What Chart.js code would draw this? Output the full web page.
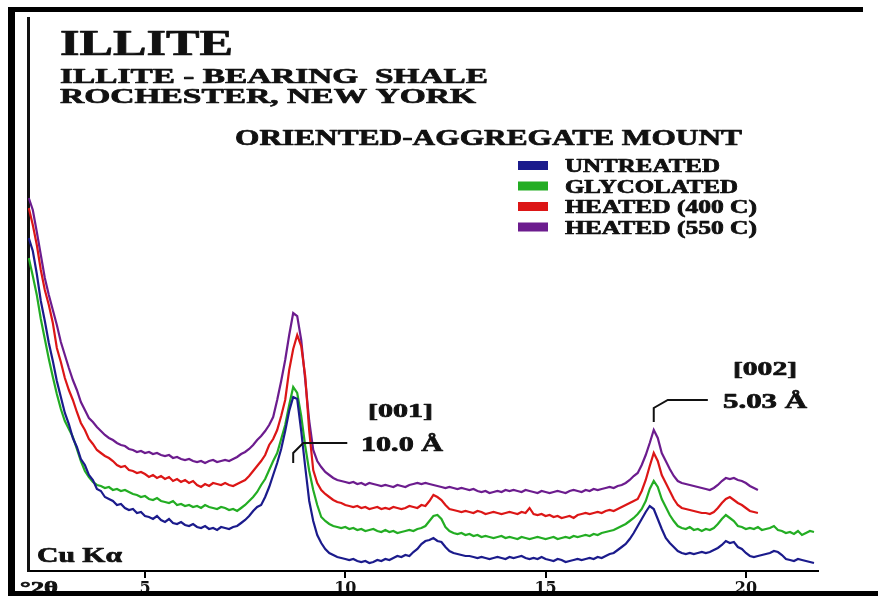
<!DOCTYPE html>
<html>
<head>
<meta charset="utf-8">
<title>ILLITE</title>
<script src="https://cdn.jsdelivr.net/npm/chart.js@4/dist/chart.umd.min.js"></script>
<style>
  html, body { margin: 0; padding: 0; background: #fff; }
  #wrap { width: 878px; height: 596px; }
</style>
</head>
<body>
<div id="wrap"><canvas id="xrd" width="878" height="596"></canvas></div>
<script>
// Scan grid (°2θ): first angle and step between readings
const scanStart = 2.1;
const scanStep = 0.1;

// Tick positions on the °2θ axis
const xTicks = [5, 10, 15, 20];

// Series names, as in the key
const seriesNames = ['UNTREATED', 'GLYCOLATED', 'HEATED (400 C)', 'HEATED (550 C)'];

// Intensities (arbitrary units, traces stacked with their own offsets)
const untreated = [
  333, 320, 297, 270, 250, 228, 210, 190, 174, 158,
  147, 133, 124, 112, 106, 96, 91, 82, 80, 74,
  72, 70, 66, 67, 63, 61, 62, 58, 59, 55,
  54, 52, 55, 51, 49, 52, 48, 47, 49, 46,
  45, 47, 44, 43, 45, 42, 43, 41, 44, 43,
  42, 44, 45, 48, 51, 55, 60, 64, 66, 74,
  84, 96, 108, 122, 140, 160, 174, 172, 140, 104,
  70, 50, 36, 28, 22, 18, 16, 14, 13, 12,
  11, 12, 10, 9, 10, 8, 9, 11, 10, 12,
  11, 13, 15, 14, 16, 15, 19, 22, 27, 30,
  31, 33, 30, 29, 24, 20, 18, 17, 16, 15,
  15, 14, 13, 14, 13, 12, 13, 14, 13, 12,
  14, 13, 14, 15, 13, 12, 13, 12, 14, 12,
  11, 10, 12, 11, 9, 10, 11, 12, 11, 12,
  13, 12, 14, 13, 15, 17, 18, 21, 24, 27,
  32, 38, 45, 52, 59, 65, 62, 52, 42, 33,
  28, 24, 20, 18, 17, 18, 17, 18, 19, 18,
  19, 21, 23, 26, 30, 28, 29, 24, 22, 18,
  15, 14, 15, 16, 17, 18, 20, 19, 16, 12,
  11, 10, 12, 11, 10, 9, 8
];
const glycolated = [
  313, 295, 276, 252, 232, 212, 194, 177, 162, 150,
  142, 134, 122, 110, 100, 94, 89, 86, 85, 83,
  84, 81, 82, 80, 81, 79, 77, 76, 74, 75,
  72, 71, 73, 70, 69, 68, 70, 66, 67, 65,
  66, 64, 65, 63, 66, 64, 63, 62, 64, 63,
  61, 62, 60, 63, 66, 70, 74, 79, 86, 92,
  101, 110, 118, 132, 146, 166, 184, 178, 155, 125,
  100, 81, 66, 54, 50, 47, 45, 44, 43, 44,
  42, 43, 41, 42, 40, 41, 42, 40, 39, 41,
  39, 40, 38, 39, 40, 41, 40, 42, 43, 45,
  50, 55, 56, 52, 44, 40, 38, 37, 38, 36,
  37, 35, 36, 34, 35, 34, 33, 34, 35, 33,
  34, 33, 32, 34, 33, 32, 33, 34, 33, 32,
  33, 34, 32, 33, 34, 33, 35, 34, 35, 36,
  35, 37, 36, 38, 39, 40, 41, 43, 45, 47,
  50, 53, 57, 62, 70, 82, 90, 84, 72, 64,
  56, 50, 45, 43, 42, 44, 41, 42, 40, 42,
  41, 43, 47, 52, 56, 53, 50, 45, 44, 42,
  43, 42, 44, 41, 42, 43, 45, 41, 40, 38,
  39, 37, 40, 36, 38, 40, 39
];
const heated400 = [
  363, 346, 326, 301, 281, 266, 248, 223, 209, 193,
  181, 171, 159, 148, 141, 132, 127, 121, 118, 115,
  113, 110, 106, 104, 105, 101, 100, 98, 99, 97,
  94, 96, 93, 95, 92, 94, 90, 92, 89, 91,
  88, 90, 86, 84, 87, 85, 88, 87, 86, 88,
  86, 85, 87, 89, 91, 95, 100, 105, 110, 116,
  126, 132, 141, 155, 171, 201, 222, 236, 225, 195,
  140, 101, 88, 81, 77, 74, 71, 69, 68, 66,
  65, 64, 65, 63, 64, 62, 63, 64, 62, 63,
  62, 64, 63, 62, 63, 65, 64, 63, 66, 65,
  70, 76, 74, 71, 66, 62, 61, 60, 59, 60,
  59, 58, 60, 59, 57, 58, 59, 58, 57, 58,
  59, 58, 57, 59, 58, 63, 57, 56, 57, 55,
  56, 54, 55, 53, 54, 55, 53, 56, 57, 58,
  57, 58, 59, 58, 60, 61, 60, 62, 64, 66,
  68, 70, 72, 80, 91, 105, 118, 110, 96, 88,
  80, 72, 66, 63, 62, 61, 60, 59, 58, 58,
  57, 59, 63, 68, 72, 74, 71, 68, 66, 63,
  60, 59, 58
];
const heated550 = [
  373, 361, 339, 316, 293, 276, 261, 246, 229, 216,
  203, 191, 181, 169, 161, 153, 149, 144, 140, 136,
  133, 131, 128, 126, 125, 122, 121, 119, 120, 118,
  119, 117, 118, 116, 115, 116, 113, 114, 112, 111,
  112, 110, 109, 110, 108, 110, 111, 109, 110, 111,
  110, 112, 114, 117, 119, 122, 126, 131, 135, 140,
  146, 154, 171, 190, 211, 236, 258, 255, 231, 191,
  150, 121, 110, 104, 99, 96, 93, 91, 90, 89,
  88, 89, 87, 88, 86, 88, 87, 86, 85, 86,
  85, 84, 86, 85, 84, 86, 87, 88, 87, 88,
  87, 86, 85, 84, 83, 84, 83, 82, 83, 82,
  81, 82, 80, 79, 80, 78, 79, 80, 79, 81,
  80, 81, 80, 79, 81, 80, 79, 78, 80, 79,
  78, 79, 80, 79, 78, 80, 81, 80, 79, 81,
  80, 82, 81, 82, 83, 84, 83, 85, 86, 88,
  91, 95, 98, 106, 116, 128, 141, 133, 118, 110,
  102, 95, 90, 88, 87, 86, 85, 84, 83, 82,
  81, 83, 86, 90, 93, 92, 93, 91, 90, 88,
  85, 83, 81
];

const seriesColors = ['#1b1b8c', '#23ad23', '#dc1616', '#6c1c8e'];
const seriesValues = [untreated, glycolated, heated400, heated550];

function toPoints(values) {
  return values.map((v, i) => ({ x: +(scanStart + i * scanStep).toFixed(2), y: v }));
}

const SERIF = '"Liberation Serif", "Times New Roman", serif';

// Heavy serif text, stretched horizontally to a given width
function wideText(ctx, text, left, baseline, size, width) {
  ctx.save();
  ctx.font = 'bold ' + size + 'px ' + SERIF;
  ctx.textAlign = 'left';
  ctx.textBaseline = 'alphabetic';
  const w = ctx.measureText(text).width;
  ctx.translate(left, baseline);
  ctx.scale(width / w, 1);
  ctx.fillStyle = '#111';
  ctx.strokeStyle = '#111';
  ctx.lineWidth = 0.7;
  ctx.lineJoin = 'round';
  ctx.fillText(text, 0, 0);
  ctx.strokeText(text, 0, 0);
  ctx.restore();
}

// Peak call-outs: leader line in data units, two text lines
const peakNotes = [
  { path: [[8.7, 108], [8.7, 118], [8.95, 128], [10.05, 128]],
    lines: [['[001]', 368, 417, 19, 65], ['10.0 Å', 361, 451, 20, 82]] },
  { path: [[17.7, 149], [17.7, 163], [18.05, 171], [19.05, 171]],
    lines: [['[002]', 733, 375, 19, 64], ['5.03 Å', 723, 408, 20, 84]] }
];

const decorations = {
  id: 'decorations',
  beforeDraw(chart) {
    const ctx = chart.ctx;
    ctx.save();
    ctx.fillStyle = '#fff';
    ctx.fillRect(0, 0, chart.width, chart.height);
    ctx.restore();
  },
  afterDraw(chart) {
    const ctx = chart.ctx;
    const xs = chart.scales.x, ys = chart.scales.y;

    // headings
    wideText(ctx, 'ILLITE', 60, 55, 35, 173);
    wideText(ctx, 'ILLITE - BEARING  SHALE', 60, 83, 22, 428);
    wideText(ctx, 'ROCHESTER, NEW YORK', 60, 103, 22, 416);
    wideText(ctx, 'ORIENTED-AGGREGATE MOUNT', 235, 145, 23, 507);

    // key
    const keyWidths = [155, 173, 192, 192];
    chart.data.datasets.forEach((ds, i) => {
      const top = 161 + i * 20.5;
      ctx.fillStyle = ds.borderColor;
      ctx.fillRect(518, top, 30, 9);
      wideText(ctx, ds.label, 565, top + 11, 18, keyWidths[i]);
    });

    // peak call-outs
    peakNotes.forEach(n => {
      ctx.save();
      ctx.strokeStyle = '#111';
      ctx.lineWidth = 2;
      ctx.beginPath();
      n.path.forEach((p, k) => {
        const px = xs.getPixelForValue(p[0]), py = ys.getPixelForValue(p[1]);
        if (k === 0) ctx.moveTo(px, py); else ctx.lineTo(px, py);
      });
      ctx.stroke();
      ctx.restore();
      n.lines.forEach(t => wideText(ctx, t[0], t[1], t[2], t[3], t[4]));
    });

    // radiation and axis unit
    wideText(ctx, 'Cu Kα', 37, 562, 21, 85);
    wideText(ctx, '°2θ', 20, 593, 17, 38);

    // outer frame
    ctx.save();
    ctx.fillStyle = '#000';
    ctx.fillRect(8, 7, 855, 5);
    ctx.fillRect(8, 7, 7, 589);
    ctx.fillRect(8, 591, 870, 5);
    ctx.restore();
  }
};

new Chart(document.getElementById('xrd'), {
  type: 'line',
  data: {
    datasets: seriesValues.map((vals, i) => ({
      label: seriesNames[i],
      data: toPoints(vals),
      borderColor: seriesColors[i],
      backgroundColor: seriesColors[i],
      borderWidth: 2.2,
      pointRadius: 0,
      tension: 0,
      fill: false
    }))
  },
  options: {
    responsive: false,
    animation: false,
    devicePixelRatio: 1,
    layout: { padding: { left: 0, right: 60, top: 18, bottom: 0 } },
    plugins: {
      legend: { display: false },
      title: { display: false },
      tooltip: { enabled: false }
    },
    scales: {
      x: {
        type: 'linear',
        position: 'bottom',
        min: 2.08,
        max: 21.8,
        afterBuildTicks: s => { s.ticks = xTicks.map(v => ({ value: v })); },
        afterFit: s => { s.height = 25; },
        grid: { display: true, drawOnChartArea: false, drawTicks: true, tickLength: 7, color: '#000', lineWidth: 2 },
        border: { display: true, color: '#000', width: 2 },
        ticks: {
          autoSkip: false, maxRotation: 0, padding: 1, color: '#111',
          font: { family: '"DejaVu Serif", serif', size: 16, weight: 'bold' }
        }
      },
      y: {
        min: 0,
        max: 553,
        afterFit: s => { s.width = 28; },
        grid: { display: false },
        border: { display: true, color: '#111', width: 3 },
        ticks: { display: false }
      }
    }
  },
  plugins: [decorations]
});
</script>
</body>
</html>
